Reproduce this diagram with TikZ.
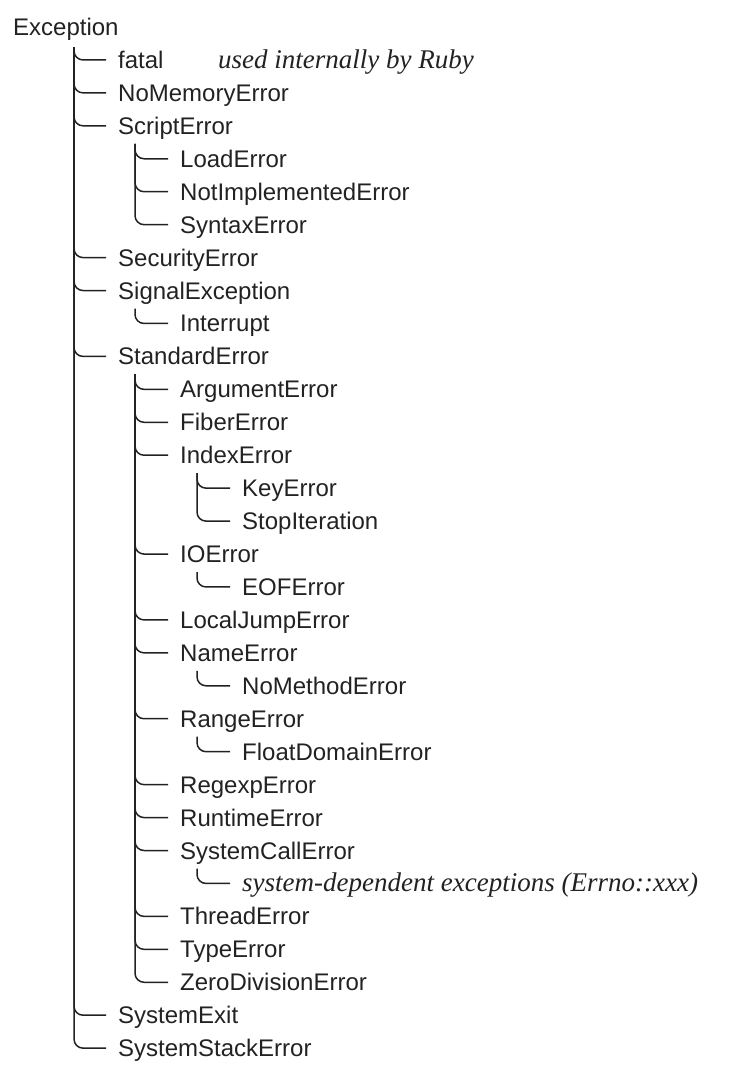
\documentclass[tikz,border=0pt]{standalone}
\usepackage{fontspec}
\setmainfont{Liberation Sans}
\newfontfamily\tms{Liberation Serif}
\usetikzlibrary{calc}
\definecolor{ink}{HTML}{222222}
\tikzset{
  cls/.style={anchor=west, inner sep=0pt, text height=17pt, text depth=0pt,
    font=\fontsize{24}{28}\selectfont, text=ink},
  note/.style={cls, font=\tms\itshape\fontsize{27}{30}\selectfont},
  branch/.style={draw=ink, line width=1.5pt, rounded corners=9pt},
}
\newcommand{\rowy}[1]{27+32.94*#1}
\begin{document}
\begin{tikzpicture}[x=1pt,y=-1pt]
\useasboundingbox (0,0) rectangle (730,1076);
% nodes
\node[cls] (exc) at (13,{\rowy{0}}) {Exception};
\node[cls] (fatal) at (118,{\rowy{1}}) {fatal};
\node[note] (fatalnote) at (218,{\rowy{1}}) {used internally by Ruby};
\node[cls] (nomem) at (118,{\rowy{2}}) {NoMemoryError};
\node[cls] (script) at (118,{\rowy{3}}) {ScriptError};
\node[cls] (load) at (180,{\rowy{4}}) {LoadError};
\node[cls] (notimpl) at (180,{\rowy{5}}) {NotImplementedError};
\node[cls] (syntax) at (180,{\rowy{6}}) {SyntaxError};
\node[cls] (security) at (118,{\rowy{7}}) {SecurityError};
\node[cls] (signal) at (118,{\rowy{8}}) {SignalException};
\node[cls] (interrupt) at (180,{\rowy{9}}) {Interrupt};
\node[cls] (standard) at (118,{\rowy{10}}) {StandardError};
\node[cls] (argument) at (180,{\rowy{11}}) {ArgumentError};
\node[cls] (fiber) at (180,{\rowy{12}}) {FiberError};
\node[cls] (index) at (180,{\rowy{13}}) {IndexError};
\node[cls] (key) at (242,{\rowy{14}}) {KeyError};
\node[cls] (stop) at (242,{\rowy{15}}) {StopIteration};
\node[cls] (io) at (180,{\rowy{16}}) {IOError};
\node[cls] (eof) at (242,{\rowy{17}}) {EOFError};
\node[cls] (localjump) at (180,{\rowy{18}}) {LocalJumpError};
\node[cls] (name) at (180,{\rowy{19}}) {NameError};
\node[cls] (nomethod) at (242,{\rowy{20}}) {NoMethodError};
\node[cls] (range) at (180,{\rowy{21}}) {RangeError};
\node[cls] (floatdom) at (242,{\rowy{22}}) {FloatDomainError};
\node[cls] (regexp) at (180,{\rowy{23}}) {RegexpError};
\node[cls] (runtime) at (180,{\rowy{24}}) {RuntimeError};
\node[cls] (syscall) at (180,{\rowy{25}}) {SystemCallError};
\node[note] (sysdep) at (242,{\rowy{26}}) {system-dependent exceptions (Errno::xxx)};
\node[cls] (thread) at (180,{\rowy{27}}) {ThreadError};
\node[cls] (type) at (180,{\rowy{28}}) {TypeError};
\node[cls] (zerodiv) at (180,{\rowy{29}}) {ZeroDivisionError};
\node[cls] (sysexit) at (118,{\rowy{30}}) {SystemExit};
\node[cls] (sysstack) at (118,{\rowy{31}}) {SystemStackError};
% tops of the vertical lines
\coordinate (exc-v) at (74,{\rowy{0}+20});
\coordinate (script-v) at (135,{\rowy{3}+18});
\coordinate (signal-v) at (135,{\rowy{8}+18});
\coordinate (standard-v) at (135,{\rowy{10}+18});
\coordinate (index-v) at (197,{\rowy{13}+18});
\coordinate (io-v) at (197,{\rowy{16}+18});
\coordinate (name-v) at (197,{\rowy{19}+18});
\coordinate (range-v) at (197,{\rowy{21}+18});
\coordinate (syscall-v) at (197,{\rowy{25}+18});
% connectors
\foreach \p/\c in {exc/fatal, exc/nomem, exc/script, exc/security, exc/signal,
  exc/standard, exc/sysexit, exc/sysstack,
  script/load, script/notimpl, script/syntax,
  signal/interrupt,
  standard/argument, standard/fiber, standard/index, standard/io,
  standard/localjump, standard/name, standard/range, standard/regexp,
  standard/runtime, standard/syscall, standard/thread, standard/type,
  standard/zerodiv,
  index/key, index/stop, io/eof, name/nomethod, range/floatdom,
  syscall/sysdep}
  \draw[branch] (\p-v) |- ([xshift=-12pt]\c.west);
\end{tikzpicture}
\end{document}
